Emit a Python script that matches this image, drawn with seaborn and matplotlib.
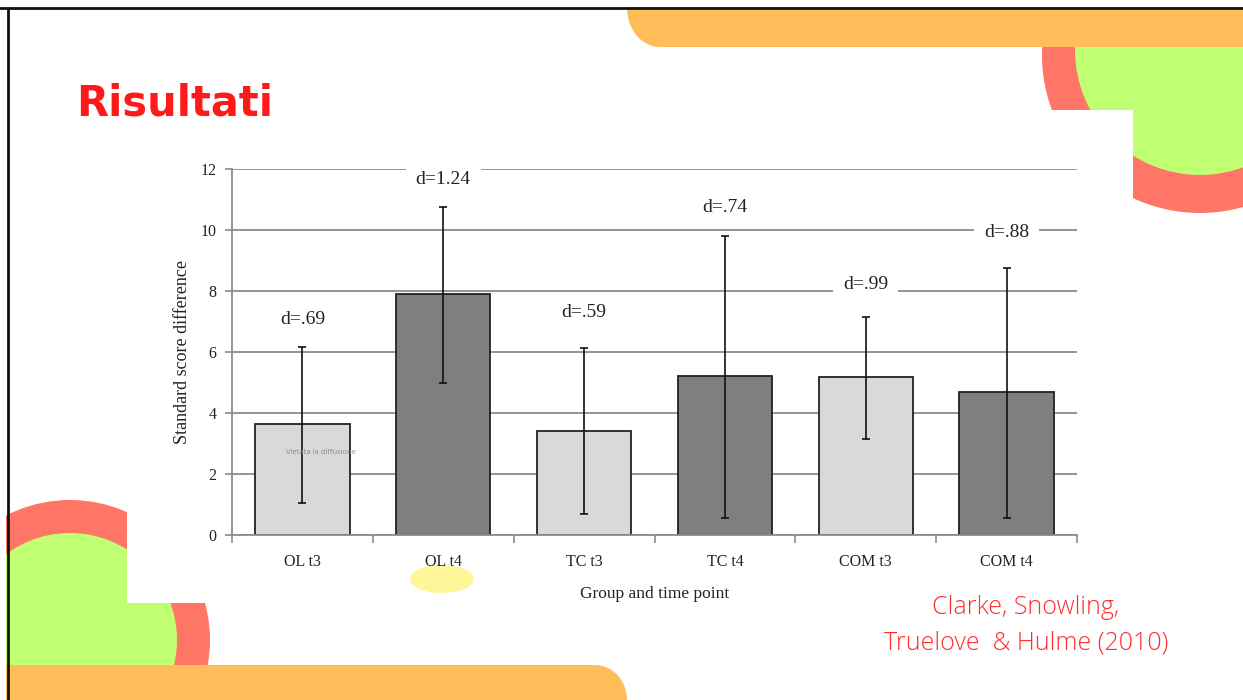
import matplotlib
matplotlib.use("Agg")
import matplotlib.pyplot as plt
import seaborn as sns
import pandas as pd
from matplotlib.patches import Rectangle, Ellipse, Circle

# ---- data ----
categories = ["OL t3", "OL t4", "TC t3", "TC t4", "COM t3", "COM t4"]
means = [3.63, 7.89, 3.42, 5.22, 5.18, 4.69]
err_low = [1.06, 4.97, 0.68, 0.55, 3.14, 0.55]
err_high = [6.15, 10.74, 6.12, 9.81, 7.16, 8.75]
d_labels = ["d=.69", "d=1.24", "d=.59", "d=.74", "d=.99", "d=.88"]
d_label_y = [7.05, 11.64, 7.31, 10.75, 8.2, 9.93]
bar_colors = ["#d9d9d9", "#7f7f7f", "#d9d9d9", "#7f7f7f", "#d9d9d9", "#7f7f7f"]
y_ticks = [0, 2, 4, 6, 8, 10, 12]

sns.set_theme(style="white")
plt.rcParams['font.family'] = ['DejaVu Sans']

W, H = 1243, 700
fig = plt.figure(figsize=(W / 100, H / 100), dpi=100)
fig.patch.set_facecolor("white")

# ---- slide decorations (pixel coordinates) ----
bg = fig.add_axes([0, 0, 1, 1], zorder=0)
bg.set_xlim(0, W)
bg.set_ylim(H, 0)
bg.axis("off")
orange = "#ffbd59"
green = "#c1ff72"
red = "#ff7566"

# top-right circles
bg.add_patch(Circle((1200, 55), 158, color=red, lw=0))
bg.add_patch(Circle((1200, 50), 125, color=green, lw=0))
bg.add_patch(Rectangle((1000, 110), 133, 130, color="white", lw=0))
# top orange bar
bg.add_patch(Rectangle((660, 0), 600, 47, color=orange, lw=0))
bg.add_patch(Ellipse((660, 8), 66, 78, color=orange, lw=0))
# bottom-left circles
bg.add_patch(Circle((70, 640), 140, color=red, lw=0))
bg.add_patch(Circle((70, 640), 107, color=green, lw=0))
bg.add_patch(Rectangle((127, 470), 140, 133, color="white", lw=0))
# bottom orange bar
bg.add_patch(Rectangle((0, 665), 595, 40, color=orange, lw=0))
bg.add_patch(Ellipse((595, 700), 64, 70, color=orange, lw=0))
# yellow highlight blob
bg.add_patch(Ellipse((442, 579), 64, 28, color="#fdf79a", lw=0))
# frame
bg.add_patch(Rectangle((0, 0), W, 7, color="white", lw=0))
bg.add_patch(Rectangle((0, 0), 6, H, color="white", lw=0))
bg.plot([0, W], [8, 8], color="#111111", lw=2)
bg.plot([8, 8], [8, H], color="#111111", lw=2)

# title
fig.text(76 / W, 1 - 103 / H, "Risultati", color="#ff1a1a", fontsize=30,
         fontweight="bold", family=["DejaVu Sans"], va="center", ha="left")
# citation
fig.text(1026 / W, 1 - 608 / H, "Clarke, Snowling,", color="#ff2e2e", fontsize=18,
         family=["Open Sans", "DejaVu Sans"], fontweight="light", ha="center", va="center")
fig.text(1026 / W, 1 - 643 / H, "Truelove  & Hulme (2010)", color="#ff2e2e", fontsize=18,
         family=["Open Sans", "DejaVu Sans"], fontweight="light", ha="center", va="center")

# ---- chart ----
left, right, bottom, top = 232, 1077, 535, 169
ax = fig.add_axes([left / W, 1 - bottom / H, (right - left) / W, (bottom - top) / H], zorder=2)
ax.set_facecolor("none")

df = pd.DataFrame({"cat": categories, "val": means})
sns.barplot(data=df, x="cat", y="val", hue="cat", palette=bar_colors, legend=False,
            width=0.67, edgecolor="#222222", linewidth=1.3, ax=ax, zorder=2)

yerr = [[m - lo for m, lo in zip(means, err_low)], [hi - m for m, hi in zip(means, err_high)]]
ax.errorbar(range(len(categories)), means, yerr=yerr, fmt="none", ecolor="#111111",
            elinewidth=1.2, capsize=3, capthick=1.2, zorder=3)

serif = ["Liberation Serif", "DejaVu Serif"]
for i, (lab, yy) in enumerate(zip(d_labels, d_label_y)):
    ax.text(i, yy, lab, ha="center", va="center", fontsize=14, family=serif,
            color="#222222", zorder=4, clip_on=False,
            bbox=dict(facecolor="white", edgecolor="none", pad=7))

ax.set_ylim(0, 12)
ax.set_xlim(-0.5, len(categories) - 0.5)
ax.set_yticks(y_ticks)
ax.yaxis.grid(True, color="#8c8c8c", linewidth=1.3)
ax.set_axisbelow(True)
ax.set_yticklabels([str(t) for t in y_ticks], family=serif, fontsize=11.5, color="#222222")
ax.set_xticks(range(len(categories)))
ax.set_xticklabels(categories, family=serif, fontsize=11.5, color="#222222")
ax.tick_params(axis="x", length=0, pad=14)
ax.tick_params(axis="y", length=5, color="#8c8c8c", width=1.2, left=True, pad=6)
# boundary ticks on x axis
ax.set_xticks([i - 0.5 for i in range(len(categories) + 1)], minor=True)
ax.tick_params(axis="x", which="minor", length=6, color="#8c8c8c", width=1.2, bottom=True)

for s in ["top", "right"]:
    ax.spines[s].set_visible(False)
for s in ["left", "bottom"]:
    ax.spines[s].set_color("#8c8c8c")
    ax.spines[s].set_linewidth(1.3)

ax.set_xlabel("Group and time point", family=serif, fontsize=12.5, color="#222222", labelpad=11)
ax.set_ylabel("Standard score difference", family=serif, fontsize=13, color="#222222", labelpad=7)

ax.text(0.13, 2.7, "Vietata la diffusione", fontsize=5.5, color="#888888", ha="center",
        va="center", family=["Open Sans", "DejaVu Sans"], zorder=5)

fig.savefig("out.png", dpi=100)
